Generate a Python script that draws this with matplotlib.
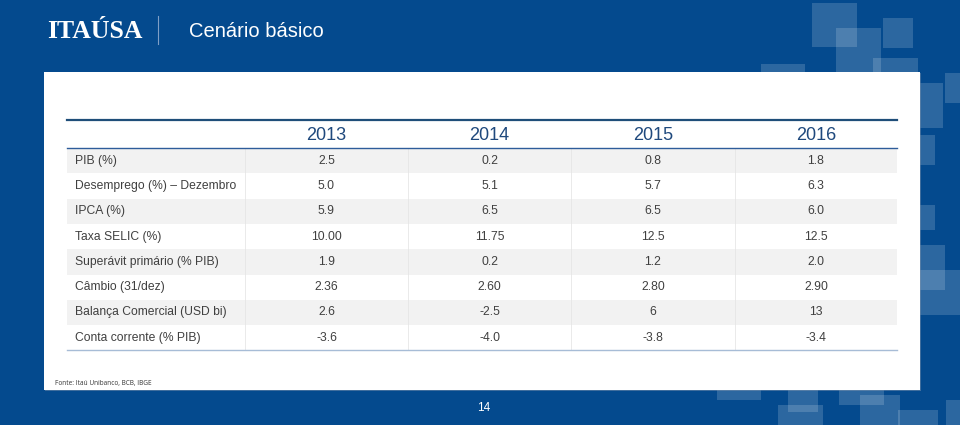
import matplotlib
matplotlib.use("Agg")
import matplotlib.pyplot as plt
from matplotlib.patches import Rectangle

# dados da tabela
row_labels = ["PIB (%)", "Desemprego (%) \u2013 Dezembro", "IPCA (%)", "Taxa SELIC (%)",
              "Superávit primário (% PIB)", "Câmbio (31/dez)", "Balança Comercial (USD bi)",
              "Conta corrente (% PIB)"]
years = ["2013", "2014", "2015", "2016"]
vals_2013 = ["2.5", "5.0", "5.9", "10.00", "1.9", "2.36", "2.6", "-3.6"]
vals_2014 = ["0.2", "5.1", "6.5", "11.75", "0.2", "2.60", "-2.5", "-4.0"]
vals_2015 = ["0.8", "5.7", "6.5", "12.5", "1.2", "2.80", "6", "-3.8"]
vals_2016 = ["1.8", "6.3", "6.0", "12.5", "2.0", "2.90", "13", "-3.4"]
columns = [vals_2013, vals_2014, vals_2015, vals_2016]

title = "Cenário básico"
logo = "ITAÚSA"
source = "Fonte: Itaú Unibanco, BCB, IBGE"
page = "14"

# quadrados decorativos (x, y, w, h) em pixels
squares = [(812, 3, 45, 44), (836, 28, 45, 45), (883, 18, 30, 30), (873, 58, 45, 45),
           (945, 73, 15, 30), (761, 64, 44, 10), (905, 83, 38, 45), (905, 135, 30, 30),
           (905, 205, 30, 25), (905, 245, 40, 45), (905, 270, 55, 45),
           (717, 388, 44, 12), (788, 388, 30, 24), (839, 388, 45, 17), (778, 405, 45, 20),
           (898, 410, 40, 15), (946, 400, 14, 25), (860, 395, 40, 30)]

blue = "#044A8E"
text_gray = "#404040"
head_blue = "#1F497D"

fig = plt.figure(figsize=(9.6, 4.25), dpi=100)
fig.patch.set_facecolor(blue)
ax = fig.add_axes([0, 0, 1, 1])
ax.set_xlim(0, 960)
ax.set_ylim(425, 0)
ax.axis("off")

for (x, y, w, h) in squares:
    ax.add_patch(Rectangle((x, y), w, h, facecolor="white", alpha=0.16, edgecolor="none", zorder=1))

# painel branco
ax.add_patch(Rectangle((45, 73), 876, 318, facecolor="#7F93AD", edgecolor="none", zorder=2, alpha=0.5))
ax.add_patch(Rectangle((44, 72), 876, 318, facecolor="white", edgecolor="none", zorder=3))

# cabeçalho
ax.text(47, 31, logo, family="Liberation Serif", weight="bold", fontsize=18.5,
        color="white", va="center", ha="left", zorder=4)
ax.plot([158, 158], [16, 44], color="#7F9FC6", lw=0.8, zorder=4)
ax.text(189, 31, title, family="Liberation Sans", fontsize=14.5, color="white",
        va="center", ha="left", zorder=4)

# tabela
x0, x1 = 67, 897
col_edges = [67, 245, 408, 571, 735, 897]
top, head_bot, row_h = 120, 148, 25.3

for i, lab in enumerate(row_labels):
    yt = head_bot + i * row_h
    if i % 2 == 0:
        ax.add_patch(Rectangle((x0, yt), x1 - x0, row_h, facecolor="#F2F2F2",
                               edgecolor="none", zorder=4))
    ax.text(75, yt + row_h / 2, lab, family="Liberation Sans", fontsize=8.7,
            color=text_gray, va="center", ha="left", zorder=6)
    for j, col in enumerate(columns):
        xc = (col_edges[j + 1] + col_edges[j + 2]) / 2
        ax.text(xc, yt + row_h / 2, col[i], family="Liberation Sans", fontsize=8.7,
                color=text_gray, va="center", ha="center", zorder=6)

bottom = head_bot + len(row_labels) * row_h
for xe in col_edges[1:-1]:
    ax.plot([xe, xe], [head_bot, bottom], color="#E6E6E6", lw=0.6, zorder=5)

for j, yr in enumerate(years):
    xc = (col_edges[j + 1] + col_edges[j + 2]) / 2
    ax.text(xc, (top + head_bot) / 2 + 1, yr, family="Liberation Sans", fontsize=13,
            color=head_blue, va="center", ha="center", zorder=6)

ax.plot([x0, x1], [top, top], color="#1F4E79", lw=1.6, zorder=6)
ax.plot([x0, x1], [head_bot, head_bot], color="#2E5C9A", lw=1.0, zorder=6)
ax.plot([x0, x1], [bottom, bottom], color="#A7BCD6", lw=1.0, zorder=6)

# rodapé
ax.text(55, 383, source, family="Open Sans", fontsize=4.7, color="#333333",
        va="center", ha="left", zorder=6)
ax.text(484, 408, page, family="Liberation Sans", fontsize=8.5, color="white",
        va="center", ha="center", zorder=6)

fig.savefig("out.png", dpi=100, facecolor=fig.get_facecolor())
plt.close(fig)
